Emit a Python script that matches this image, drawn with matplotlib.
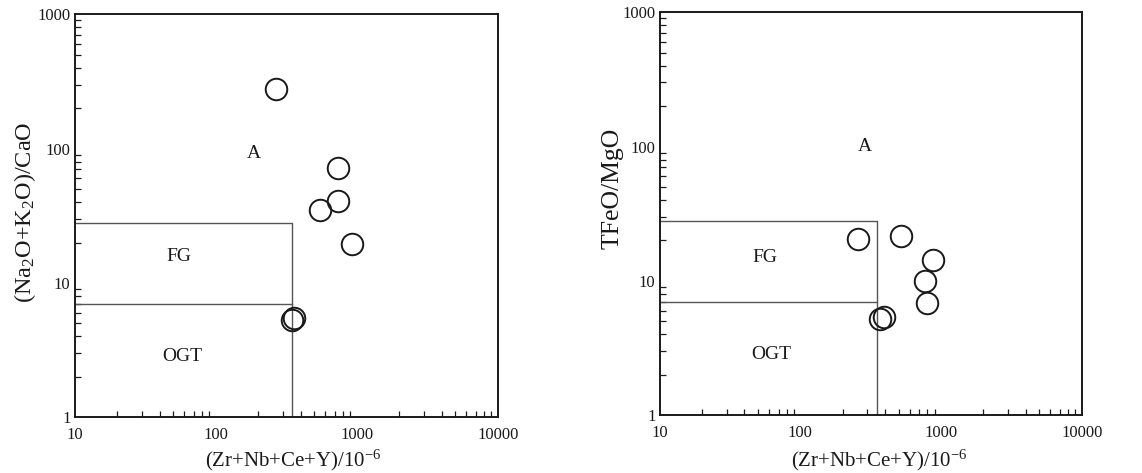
import matplotlib
matplotlib.use("Agg")
import matplotlib.pyplot as plt
from matplotlib.ticker import LogLocator, NullFormatter, FixedLocator, FixedFormatter

plt.rcParams['font.family'] = ['Liberation Serif', 'DejaVu Serif']
plt.rcParams['mathtext.fontset'] = 'custom'
plt.rcParams['mathtext.rm'] = 'Liberation Serif'
plt.rcParams['mathtext.it'] = 'Liberation Serif:italic'

# Data
left_x = [266, 741, 741, 549, 921, 348, 361]
left_y = [280, 71.5, 40.8, 35, 19.4, 5.3, 5.46]
right_x = [258, 519, 882, 769, 791, 370, 395]
right_y = [20.4, 21.6, 14.3, 10.0, 6.87, 5.16, 5.40]

# Field boundaries
zr_limit = 350
fg_top_left = 28
fg_bottom_left = 7
fg_top_right = 28
fg_bottom_right = 7

x_ticks = [10, 100, 1000, 10000]
x_ticklabels = ['10', '100', '1000', '10000']
y_ticks = [1, 10, 100, 1000]
y_ticklabels = ['1', '10', '100', '1000']

xlabel = '(Zr+Nb+Ce+Y)/10$^{-6}$'
ylabel_left = '(Na$_{2}$O+K$_{2}$O)/CaO'
ylabel_right = 'TFeO/MgO'

fig = plt.figure(figsize=(11.42, 4.73), dpi=100)
ax1 = fig.add_axes([0.0654, 0.1178, 0.3704, 0.852])
ax2 = fig.add_axes([0.5777, 0.1226, 0.3695, 0.8514])


def style(ax, xs, ys, fg_top, fg_bot, ylabel, ylab_size, labels, ylab_xy, xlab_xy):
    ax.set_xscale('log')
    ax.set_yscale('log')
    ax.set_xlim(10, 10000)
    ax.set_ylim(1, 1000)
    # field boxes
    ax.plot([10, zr_limit, zr_limit], [fg_top, fg_top, 1], color='#555555', lw=1.0)
    ax.plot([10, zr_limit], [fg_bot, fg_bot], color='#555555', lw=1.0)
    ax.plot(xs, ys, linestyle='none', marker='o', markersize=15.5,
            markerfacecolor='none', markeredgecolor='#1a1a1a', markeredgewidth=1.4)
    for txt, (lx, ly) in labels.items():
        ax.text(lx, ly, txt, fontsize=14, ha='center', va='center', color='#1a1a1a')
    ax.xaxis.set_major_locator(FixedLocator(x_ticks))
    ax.xaxis.set_major_formatter(FixedFormatter(x_ticklabels))
    ax.yaxis.set_major_locator(FixedLocator(y_ticks))
    ax.yaxis.set_major_formatter(FixedFormatter(y_ticklabels))
    ax.xaxis.set_minor_locator(LogLocator(base=10, subs=range(2, 10)))
    ax.yaxis.set_minor_locator(LogLocator(base=10, subs=range(2, 10)))
    ax.xaxis.set_minor_formatter(NullFormatter())
    ax.yaxis.set_minor_formatter(NullFormatter())
    ax.tick_params(which='major', direction='in', length=0, labelsize=12, colors='#1a1a1a')
    ax.tick_params(axis='x', which='major', pad=7)
    ax.tick_params(axis='y', which='major', pad=3)
    ax.tick_params(which='minor', direction='in', length=4, width=0.9, color='#1a1a1a')
    for s in ax.spines.values():
        s.set_linewidth(1.4)
        s.set_color('#1a1a1a')
    ax.set_xlabel(xlabel, fontsize=15, color='#1a1a1a', va='center')
    ax.set_ylabel(ylabel, fontsize=ylab_size, color='#1a1a1a', va='center')
    ax.yaxis.set_label_coords(*ylab_xy)
    ax.xaxis.set_label_coords(*xlab_xy)


style(ax1, left_x, left_y, fg_top_left, fg_bottom_left, ylabel_left, 17.5,
      {'A': (187, 92), 'FG': (55, 15.7), 'OGT': (58, 2.83)},
      (-0.117, 0.509), (0.516, -0.106))
style(ax2, right_x, right_y, fg_top_right, fg_bottom_right, ylabel_right, 18.5,
      {'A': (288, 100), 'FG': (55.5, 14.9), 'OGT': (62, 2.83)},
      (-0.111, 0.562), (0.52, -0.112))

fig.savefig('out.png', dpi=100)
